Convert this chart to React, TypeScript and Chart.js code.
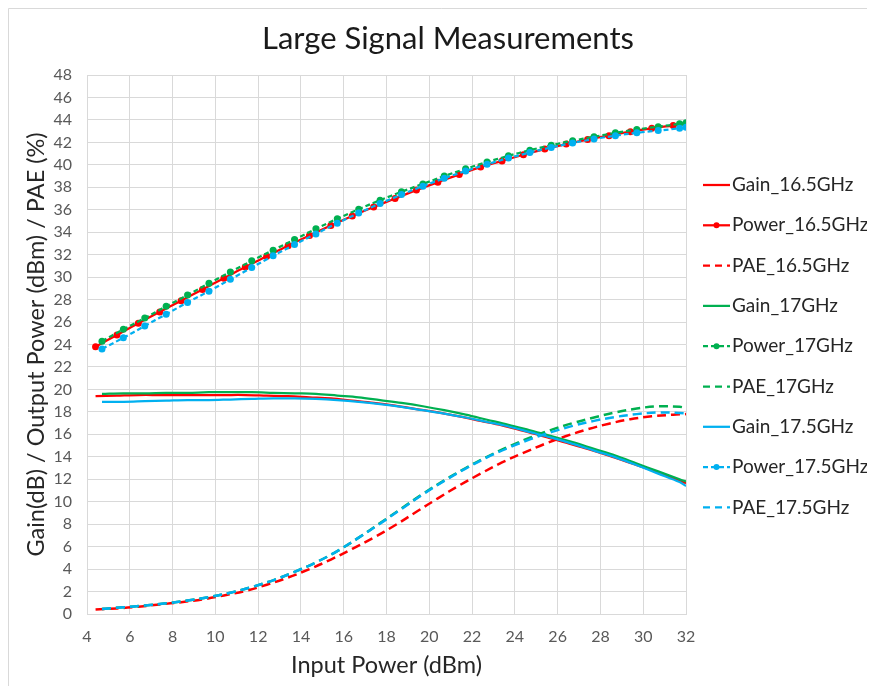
import { useEffect, useRef } from "react";
import { Chart, registerables } from "chart.js";

Chart.register(...registerables);

// ---------- data ----------
const pin165 = [4.4, 5.4, 6.4, 7.4, 8.4, 9.4, 10.4, 11.4, 12.4, 13.4, 14.4, 15.4, 16.4, 17.4, 18.4, 19.4, 20.4, 21.4, 22.4, 23.4, 24.4, 25.4, 26.4, 27.4, 28.4, 29.4, 30.4, 31.4, 32.0];
const pin17 = [4.7, 5.7, 6.7, 7.7, 8.7, 9.7, 10.7, 11.7, 12.7, 13.7, 14.7, 15.7, 16.7, 17.7, 18.7, 19.7, 20.7, 21.7, 22.7, 23.7, 24.7, 25.7, 26.7, 27.7, 28.7, 29.7, 30.7, 31.7, 32.0];
const pin175 = [4.7, 5.7, 6.7, 7.7, 8.7, 9.7, 10.7, 11.7, 12.7, 13.7, 14.7, 15.7, 16.7, 17.7, 18.7, 19.7, 20.7, 21.7, 22.7, 23.7, 24.7, 25.7, 26.7, 27.7, 28.7, 29.7, 30.7, 31.7, 32.0];

const gain165 = [19.4, 19.45, 19.5, 19.5, 19.5, 19.5, 19.5, 19.5, 19.45, 19.4, 19.3, 19.2, 19.0, 18.8, 18.55, 18.25, 17.95, 17.6, 17.2, 16.8, 16.3, 15.8, 15.25, 14.7, 14.1, 13.45, 12.8, 12.1, 11.65];
const power165 = [23.8, 24.85, 25.9, 26.9, 27.9, 28.9, 29.9, 30.9, 31.85, 32.8, 33.7, 34.6, 35.45, 36.25, 37.0, 37.75, 38.45, 39.15, 39.8, 40.35, 40.9, 41.4, 41.85, 42.25, 42.6, 42.95, 43.25, 43.5, 43.65];
const pae165 = [0.4, 0.5, 0.65, 0.85, 1.05, 1.3, 1.65, 2.05, 2.6, 3.25, 4.0, 4.85, 5.8, 6.8, 7.9, 9.1, 10.3, 11.45, 12.5, 13.5, 14.35, 15.15, 15.85, 16.45, 16.95, 17.35, 17.6, 17.75, 17.8];

const gain17 = [19.6, 19.65, 19.65, 19.7, 19.7, 19.75, 19.75, 19.75, 19.7, 19.65, 19.6, 19.45, 19.3, 19.05, 18.8, 18.5, 18.15, 17.75, 17.3, 16.85, 16.35, 15.85, 15.3, 14.7, 14.1, 13.4, 12.7, 12.0, 11.8];
const power17 = [24.3, 25.35, 26.35, 27.4, 28.4, 29.45, 30.45, 31.45, 32.4, 33.35, 34.3, 35.2, 36.05, 36.85, 37.6, 38.3, 39.0, 39.65, 40.25, 40.8, 41.3, 41.75, 42.15, 42.5, 42.85, 43.15, 43.4, 43.65, 43.75];
const pae17 = [0.45, 0.6, 0.75, 0.95, 1.2, 1.5, 1.9, 2.4, 3.0, 3.75, 4.6, 5.6, 6.8, 8.1, 9.4, 10.7, 11.9, 13.0, 14.0, 14.9, 15.7, 16.4, 17.0, 17.5, 17.95, 18.3, 18.5, 18.45, 18.35];

const gain175 = [18.9, 18.9, 18.95, 19.0, 19.05, 19.05, 19.1, 19.15, 19.2, 19.2, 19.15, 19.05, 18.9, 18.7, 18.45, 18.15, 17.85, 17.5, 17.1, 16.7, 16.2, 15.7, 15.15, 14.55, 13.95, 13.25, 12.5, 11.75, 11.4];
const power175 = [23.6, 24.6, 25.65, 26.7, 27.75, 28.75, 29.8, 30.85, 31.9, 32.9, 33.85, 34.8, 35.7, 36.55, 37.35, 38.1, 38.8, 39.45, 40.05, 40.6, 41.1, 41.55, 41.95, 42.3, 42.6, 42.85, 43.05, 43.25, 43.35];
const pae175 = [0.45, 0.6, 0.75, 0.95, 1.2, 1.5, 1.9, 2.4, 3.0, 3.75, 4.6, 5.6, 6.8, 8.05, 9.35, 10.65, 11.85, 12.95, 13.95, 14.8, 15.55, 16.2, 16.75, 17.2, 17.55, 17.8, 17.95, 17.9, 17.85];

const seriesLabels = ["Gain_16.5GHz", "Power_16.5GHz", "PAE_16.5GHz", "Gain_17GHz", "Power_17GHz", "PAE_17GHz", "Gain_17.5GHz", "Power_17.5GHz", "PAE_17.5GHz"];
const titleText = "Large Signal Measurements";
const xTitle = "Input Power (dBm)";
const yTitle = "Gain(dB) / Output Power (dBm) / PAE (%)";

// ---------- styles ----------
const RED = "#FF0000";
const GREEN = "#00B050";
const BLUE = "#00B0F0";
const FONT = "Lato, 'Open Sans', sans-serif";
const W = 867;
const H = 678;

const zip = (xs: number[], ys: number[]) => xs.map((x, i) => ({ x, y: ys[i] }));

type Kind = "gain" | "power" | "powerDash" | "pae";
const mk = (label: string, xs: number[], ys: number[], color: string, kind: Kind, order: number) => ({
  label,
  data: zip(xs, ys),
  borderColor: color,
  backgroundColor: color,
  borderWidth: kind === "pae" ? 2.5 : 2.25,
  borderDash: kind === "pae" ? [9, 5] : kind === "powerDash" ? [5, 3] : [],
  pointRadius: kind === "power" || kind === "powerDash" ? 3.5 : 0,
  pointBorderWidth: 0,
  pointBackgroundColor: color,
  tension: 0.35,
  fill: false,
  order,
});

const titlePlugin = {
  id: "centerTitle",
  afterDraw(chart: any) {
    const ctx = chart.ctx as CanvasRenderingContext2D;
    ctx.save();
    ctx.fillStyle = "#1a1a1a";
    ctx.font = `31px ${FONT}`;
    ctx.textAlign = "center";
    ctx.textBaseline = "middle";
    ctx.fillText(titleText, 440, 31);
    ctx.restore();
  },
};

const legendPlugin = {
  id: "customLegend",
  afterDraw(chart: any) {
    const ctx = chart.ctx as CanvasRenderingContext2D;
    ctx.save();
    const x0 = 695;
    const x1 = 722;
    const y0 = 177;
    const step = 40.3;
    chart.data.datasets.forEach((ds: any, i: number) => {
      const y = y0 + i * step;
      ctx.strokeStyle = ds.borderColor;
      ctx.lineWidth = 2.25;
      ctx.setLineDash(ds.borderDash && ds.borderDash.length ? (ds.borderDash[0] > 6 ? [7, 5] : [5, 3]) : []);
      ctx.beginPath();
      ctx.moveTo(x0, y);
      ctx.lineTo(x1, y);
      ctx.stroke();
      ctx.setLineDash([]);
      if (ds.pointRadius > 0) {
        ctx.fillStyle = ds.borderColor;
        ctx.beginPath();
        ctx.arc((x0 + x1) / 2, y, 3, 0, Math.PI * 2);
        ctx.fill();
      }
      ctx.fillStyle = "#262626";
      ctx.font = `19px ${FONT}`;
      ctx.textBaseline = "middle";
      ctx.textAlign = "left";
      ctx.fillText(ds.label, x1 + 2, y);
    });
    ctx.restore();
  },
};

const framePlugin = {
  id: "frame",
  beforeDraw(chart: any) {
    const ctx = chart.ctx as CanvasRenderingContext2D;
    ctx.save();
    ctx.fillStyle = "#FFFFFF";
    ctx.fillRect(0, 0, chart.width, chart.height);
    ctx.strokeStyle = "#D9D9D9";
    ctx.lineWidth = 1;
    ctx.beginPath();
    ctx.moveTo(0.5, chart.height);
    ctx.lineTo(0.5, 0.5);
    ctx.lineTo(chart.width, 0.5);
    ctx.stroke();
    ctx.restore();
  },
};

export default function App() {
  const ref = useRef<HTMLCanvasElement | null>(null);
  useEffect(() => {
    if (!ref.current) return;
    const chart = new Chart(ref.current, {
      type: "line",
      data: {
        datasets: [
          mk(seriesLabels[0], pin165, gain165, RED, "gain", 9),
          mk(seriesLabels[1], pin165, power165, RED, "power", 8),
          mk(seriesLabels[2], pin165, pae165, RED, "pae", 7),
          mk(seriesLabels[3], pin17, gain17, GREEN, "gain", 6),
          mk(seriesLabels[4], pin17, power17, GREEN, "powerDash", 5),
          mk(seriesLabels[5], pin17, pae17, GREEN, "pae", 4),
          mk(seriesLabels[6], pin175, gain175, BLUE, "gain", 3),
          mk(seriesLabels[7], pin175, power175, BLUE, "powerDash", 2),
          mk(seriesLabels[8], pin175, pae175, BLUE, "pae", 1),
        ] as any,
      },
      options: {
        animation: false,
        responsive: false,
        maintainAspectRatio: false,
        layout: { padding: { left: 0, right: 189, top: 67, bottom: 0 } },
        plugins: {
          legend: { display: false },
          tooltip: { enabled: false },
          title: { display: false },
        },
        scales: {
          x: {
            type: "linear",
            min: 4,
            max: 32,
            ticks: { stepSize: 2, color: "#595959", font: { family: FONT, size: 16 }, padding: 13.4 },
            grid: { color: "#D9D9D9", lineWidth: 1, drawTicks: false },
            border: { color: "#D9D9D9" },
            title: {
              display: true,
              text: xTitle,
              color: "#262626",
              font: { family: FONT, size: 23.5 },
              padding: { top: 0, bottom: 6.9 },
            },
            afterFit: (s: any) => {
              s.height = 72;
            },
          },
          y: {
            type: "linear",
            min: 0,
            max: 48,
            ticks: { stepSize: 2, color: "#595959", font: { family: FONT, size: 16 }, padding: 15 },
            grid: { color: "#D9D9D9", lineWidth: 1, drawTicks: false },
            border: { color: "#D9D9D9" },
            title: {
              display: true,
              text: yTitle,
              color: "#262626",
              font: { family: FONT, size: 23.5 },
              padding: { top: 13.9, bottom: 0 },
            },
            afterFit: (s: any) => {
              s.width = 79;
            },
          },
        },
      },
      plugins: [framePlugin, titlePlugin, legendPlugin],
    });
    return () => chart.destroy();
  }, []);
  return (
    <div style={{ width: W, height: H }}>
      <canvas ref={ref} width={W} height={H} style={{ display: "block", width: W, height: H }} />
    </div>
  );
}
